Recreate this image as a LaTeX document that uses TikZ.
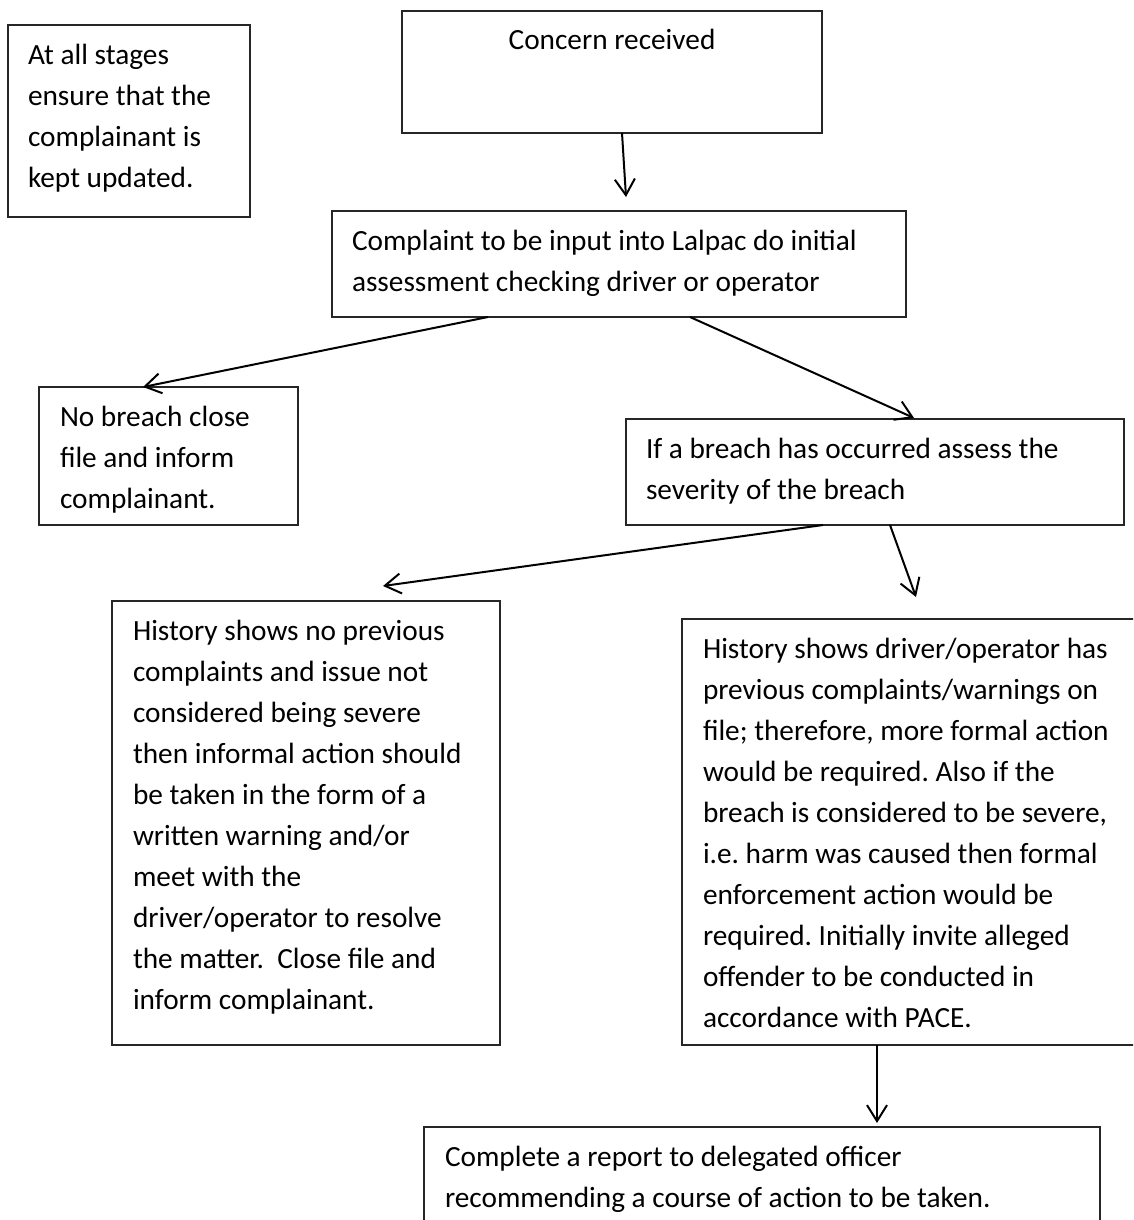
\documentclass[tikz,border=0pt]{standalone}
\usepackage{fontspec}
\setmainfont{Carlito}
\usetikzlibrary{arrows.meta,calc}
\frenchspacing
\begin{document}
\begin{tikzpicture}[x=1pt,y=-1pt,
  box/.style={draw=black!85, line width=1.2pt, rectangle, inner sep=0pt, outer sep=0pt, anchor=north west},
  txt/.style={anchor=north west, inner sep=0pt, outer sep=0pt, align=left, font=\fontsize{29.3pt}{41pt}\selectfont\frenchspacing},
  arr/.style={line width=2pt, -{Straight Barb[length=16pt,width=20pt,line width=2pt]}}]
\clip (0,0) rectangle (1133,1220);
\fill[white] (0,0) rectangle (1133,1220);
% boxes
\node[box, minimum width=242pt, minimum height=192pt] (note) at (8,25) {};
\node[box, minimum width=420pt, minimum height=122pt] (concern) at (402,11) {};
\node[box, minimum width=574pt, minimum height=106pt] (complaint) at (332,211) {};
\node[box, minimum width=259pt, minimum height=138pt] (nobreach) at (39,387) {};
\node[box, minimum width=498pt, minimum height=106pt] (ifbreach) at (626,419) {};
\node[box, minimum width=388pt, minimum height=444pt] (histL) at (112,601) {};
\node[box, minimum width=480pt, minimum height=426pt] (histR) at (682,619) {};
\node[box, minimum width=676pt, minimum height=140pt] (report) at (424,1127) {};
% texts
\newcommand{\fl}{\rule{0pt}{30pt}}
\node[txt] (tnote) at ($(note.north west)+(20,9)$) {\fl At all stages\\ensure that the\\complainant is\\kept updated.};
\node[txt, anchor=north, align=center] (tconcern) at ($(concern.north)+(0,9)$) {\fl Concern received};
\node[txt] (tcomplaint) at ($(complaint.north west)+(20,9)$) {\fl Complaint to be input into Lalpac do initial\\assessment checking driver or operator};
\node[txt] (tnobreach) at ($(nobreach.north west)+(21,9)$) {\fl No breach close\\file and inform\\complainant.};
\node[txt] (tifbreach) at ($(ifbreach.north west)+(20,9)$) {\fl If a breach has occurred assess the\\severity of the breach};
\node[txt] (thistL) at ($(histL.north west)+(21,9)$) {\fl History shows no previous\\complaints and issue not\\considered being severe\\then informal action should\\be taken in the form of a\\written warning and/or\\meet with the\\driver/operator to resolve\\the matter.~ Close file and\\inform complainant.};
\node[txt] (thistR) at ($(histR.north west)+(21,9)$) {\fl History shows driver/operator has\\previous complaints/warnings on\\file; therefore, more formal action\\would be required. Also if the\\breach is considered to be severe,\\i.e. harm was caused then formal\\enforcement action would be\\required. Initially invite alleged\\offender to be conducted in\\accordance with PACE.};
\node[txt] (treport) at ($(report.north west)+(21,9)$) {\fl Complete a report to delegated officer\\recommending a course of action to be taken.};
% connectors
\draw[arr] ($(concern.south west)+(220,0)$) -- ($(complaint.north west)+(294,-14)$);
\draw[arr] ($(complaint.south west)+(156,0)$) -- ($(nobreach.north west)+(104,0)$);
\draw[arr] ($(complaint.south west)+(358,0)$) -- ($(ifbreach.north west)+(288,-1)$);
\draw[arr] ($(ifbreach.south west)+(197,0)$) -- ($(histL.north west)+(271,-15)$);
\draw[arr] ($(ifbreach.south west)+(264,0)$) -- ($(histR.north west)+(234,-22)$);
\draw[arr] ($(histR.south west)+(195,0)$) -- ($(report.north west)+(453,-4)$);
\end{tikzpicture}
\end{document}
